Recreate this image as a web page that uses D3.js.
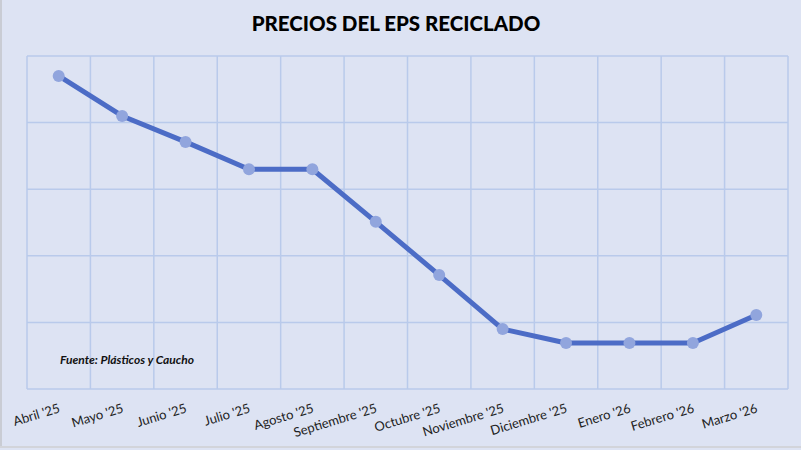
<!DOCTYPE html>
<html>
<head>
<meta charset="utf-8">
<script src="https://cdn.jsdelivr.net/npm/d3@7"></script>
<style>
  html, body { margin: 0; padding: 0; background: #dde3f3; }
  svg { display: block; }
</style>
</head>
<body>
<svg id="chart"></svg>
<script>
// Meses y precios relativos (el gráfico no muestra eje Y)
const months = ["Abril '25", "Mayo '25", "Junio '25", "Julio '25", "Agosto '25", "Septiembre '25",
  "Octubre '25", "Noviembre '25", "Diciembre '25", "Enero '26", "Febrero '26", "Marzo '26"];
const prices = [4.70, 4.10, 3.71, 3.30, 3.30, 2.51, 1.71, 0.90, 0.69, 0.69, 0.69, 1.11];
const yTicks = [0, 1, 2, 3, 4, 5];

const width = 801, height = 450;
const margin = { top: 56, right: 13, bottom: 61, left: 27 };

const svg = d3.select("#chart")
  .attr("width", width)
  .attr("height", height);

// fondo y borde
svg.append("rect")
  .attr("x", 0).attr("y", 0)
  .attr("width", width).attr("height", height)
  .attr("fill", "#dde3f3");
svg.append("line")
  .attr("x1", 1).attr("x2", 1).attr("y1", 0).attr("y2", 447)
  .attr("stroke", "#c9ccd4").attr("stroke-width", 2);
svg.append("line")
  .attr("x1", 0).attr("x2", width).attr("y1", 447).attr("y2", 447)
  .attr("stroke", "#d2d4da").attr("stroke-width", 2);

const x = d3.scaleBand()
  .domain(months)
  .range([margin.left, width - margin.right]);

const y = d3.scaleLinear()
  .domain([0, 5])
  .range([height - margin.bottom, margin.top]);

const gridColor = "#b9caeb";

// líneas horizontales
svg.append("g")
  .selectAll("line")
  .data(yTicks)
  .join("line")
  .attr("x1", margin.left)
  .attr("x2", width - margin.right)
  .attr("y1", d => y(d))
  .attr("y2", d => y(d))
  .attr("stroke", gridColor)
  .attr("stroke-width", 1.5);

// líneas verticales (bordes de categoría)
const edges = months.map(m => x(m)).concat([x(months[months.length - 1]) + x.bandwidth()]);
svg.append("g")
  .selectAll("line")
  .data(edges)
  .join("line")
  .attr("x1", d => d)
  .attr("x2", d => d)
  .attr("y1", y(5))
  .attr("y2", y(0))
  .attr("stroke", gridColor)
  .attr("stroke-width", 1.5);

// fuente
svg.append("text")
  .attr("x", 60)
  .attr("y", 364)
  .attr("font-family", "Lato, 'Open Sans', sans-serif")
  .attr("font-size", 12)
  .attr("font-weight", "bold")
  .attr("font-style", "italic")
  .attr("fill", "#111")
  .text("Fuente: Plásticos y Caucho");

// etiquetas del eje X
svg.append("g")
  .selectAll("text")
  .data(months)
  .join("text")
  .attr("transform", d => `translate(${x(d) + x.bandwidth() / 2 + 2},${y(0) + 23}) rotate(-17)`)
  .attr("text-anchor", "end")
  .attr("font-family", "Lato, 'Open Sans', sans-serif")
  .attr("font-size", 13)
  .attr("fill", "#222")
  .text(d => d);

// línea de precios
const line = d3.line()
  .x((d, i) => x(months[i]) + x.bandwidth() / 2)
  .y(d => y(d));

svg.append("path")
  .datum(prices)
  .attr("d", line)
  .attr("fill", "none")
  .attr("stroke", "#4c6cc6")
  .attr("stroke-width", 5)
  .attr("stroke-linejoin", "round");

svg.append("g")
  .selectAll("circle")
  .data(prices)
  .join("circle")
  .attr("cx", (d, i) => x(months[i]) + x.bandwidth() / 2)
  .attr("cy", d => y(d))
  .attr("r", 6)
  .attr("fill", "#91a5dd");

// título
svg.append("text")
  .attr("x", 396)
  .attr("y", 31)
  .attr("text-anchor", "middle")
  .attr("font-family", "Lato, 'Open Sans', sans-serif")
  .attr("font-size", 20.5)
  .attr("font-weight", "900")
  .attr("fill", "#000")
  .text("PRECIOS DEL EPS RECICLADO");
</script>
</body>
</html>
